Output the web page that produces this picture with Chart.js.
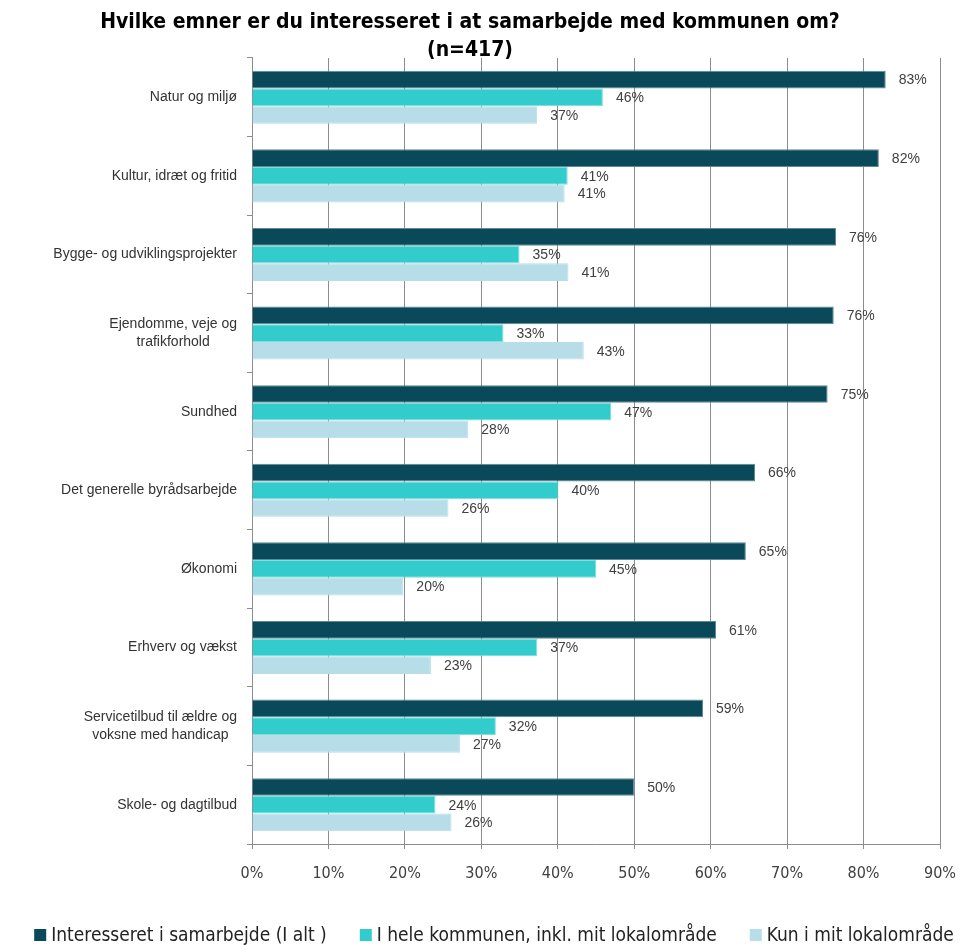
<!DOCTYPE html>
<html>
<head>
<meta charset="utf-8">
<script src="https://cdn.jsdelivr.net/npm/chart.js@4/dist/chart.umd.min.js"></script>
<style>
  html, body { margin: 0; padding: 0; background: #fff; }
  #wrap { width: 960px; height: 945px; position: relative; }
</style>
</head>
<body>
<div id="wrap"><canvas id="myChart" width="960" height="945"></canvas></div>
<script>
const categories = [
    ["Natur og miljø"],
    ["Kultur, idræt og fritid"],
    ["Bygge- og udviklingsprojekter"],
    ["Ejendomme, veje og", "trafikforhold"],
    ["Sundhed"],
    ["Det generelle byrådsarbejde"],
    ["Økonomi"],
    ["Erhverv og vækst"],
    ["Servicetilbud til ældre og", "voksne med handicap"],
    ["Skole- og dagtilbud"]
];
const seriesNames = [
    "Interesseret i samarbejde (I alt )",
    "I hele kommunen, inkl. mit lokalområde",
    "Kun i mit lokalområde"
];
const iAlt = [82.9, 82.0, 76.4, 76.1, 75.3, 65.8, 64.6, 60.7, 59.0, 50.0];
const heleKommunen = [45.9, 41.3, 35.0, 32.9, 47.0, 40.1, 45.0, 37.3, 31.9, 24.0];
const kunLokal = [37.3, 40.9, 41.4, 43.4, 28.3, 25.7, 19.8, 23.4, 27.2, 26.1];
const xTicks = [0, 10, 20, 30, 40, 50, 60, 70, 80, 90];

const gridGrey = '#8c8c8c';
const narrow = '"Liberation Sans Narrow", "DejaVu Sans Condensed", sans-serif';

// value labels at the end of every bar
const valueLabels = {
    id: 'valueLabels',
    afterDatasetsDraw(chart) {
        const ctx = chart.ctx;
        ctx.save();
        ctx.font = '14px "Liberation Sans", Arial, sans-serif';
        ctx.fillStyle = '#404040';
        ctx.textAlign = 'left';
        ctx.textBaseline = 'middle';
        chart.data.datasets.forEach((ds, i) => {
            chart.getDatasetMeta(i).data.forEach((bar, j) => {
                ctx.fillText(Math.round(ds.data[j]) + '%', bar.x + 13, bar.y + 1);
            });
        });
        ctx.restore();
    }
};

// category labels: right aligned block, lines centred inside it
const catLabels = {
    id: 'catLabels',
    afterDraw(chart) {
        const ctx = chart.ctx;
        const y = chart.scales.y;
        const right = y.right - 15;
        ctx.save();
        ctx.font = '14px "Liberation Sans", Arial, sans-serif';
        ctx.fillStyle = '#333333';
        ctx.textAlign = 'center';
        ctx.textBaseline = 'middle';
        chart.data.labels.forEach((lines, i) => {
            const w = Math.max(...lines.map(l => ctx.measureText(l).width));
            const cx = right - w / 2;
            const cy = y.getPixelForTick(i);
            const top = cy - (lines.length - 1) * 9;
            lines.forEach((l, k) => ctx.fillText(l, cx, top + k * 18));
        });
        ctx.restore();
    }
};

// one-row legend under the axis
const bottomLegend = {
    id: 'bottomLegend',
    afterDraw(chart) {
        const ctx = chart.ctx;
        const box = 12, gap = 5, between = 33, yMid = 935;
        ctx.save();
        ctx.font = '19px ' + narrow;
        ctx.textBaseline = 'middle';
        ctx.textAlign = 'left';
        const items = chart.data.datasets.map(ds => ({
            text: ds.label, color: ds.backgroundColor, w: ctx.measureText(ds.label).width
        }));
        const total = items.reduce((s, it) => s + box + gap + it.w, 0) + between * (items.length - 1);
        let x = 494 - total / 2;
        items.forEach(it => {
            ctx.fillStyle = it.color;
            ctx.fillRect(x, yMid - box / 2, box, box);
            ctx.fillStyle = '#222';
            ctx.fillText(it.text, x + box + gap, yMid + 1);
            x += box + gap + it.w + between;
        });
        ctx.restore();
    }
};

new Chart(document.getElementById('myChart'), {
    type: 'bar',
    data: {
        labels: categories,
        datasets: [{
            label: seriesNames[0],
            data: iAlt,
            backgroundColor: '#09495a',
            borderColor: '#5d8a96',
            borderWidth: 1
        }, {
            label: seriesNames[1],
            data: heleKommunen,
            backgroundColor: '#33cccc',
            borderColor: '#7fdede',
            borderWidth: 1
        }, {
            label: seriesNames[2],
            data: kunLokal,
            backgroundColor: '#b7dee8',
            borderColor: '#b7dee8',
            borderWidth: 1
        }]
    },
    options: {
        indexAxis: 'y',
        responsive: false,
        animation: false,
        layout: { padding: { left: 0, right: 20, top: 0, bottom: 51 } },
        datasets: { bar: { categoryPercentage: 0.675, barPercentage: 1 } },
        scales: {
            x: {
                min: 0,
                max: 90,
                afterBuildTicks: scale => { scale.ticks = xTicks.map(v => ({ value: v })); },
                afterFit: scale => { scale.height = 50; },
                ticks: {
                    callback: v => v + '%',
                    font: { family: narrow, size: 16, lineHeight: 2.6 },
                    color: '#404040',
                    padding: 4
                },
                grid: { color: gridGrey, tickLength: 5, tickColor: gridGrey },
                border: { color: gridGrey }
            },
            y: {
                afterFit: scale => { scale.width = 252; },
                ticks: { display: false },
                grid: { drawOnChartArea: false, drawTicks: true, tickLength: 5, color: gridGrey, offset: true },
                border: { color: gridGrey }
            }
        },
        plugins: {
            title: {
                display: true,
                text: ['Hvilke emner er du interesseret i at samarbejde med kommunen om?', '(n=417)'],
                font: { family: narrow, size: 21, weight: 'bold', lineHeight: 1.333 },
                color: '#000',
                padding: { top: 9, bottom: -7 }
            },
            legend: { display: false },
            tooltip: { enabled: false }
        }
    },
    plugins: [valueLabels, catLabels, bottomLegend]
});
</script>
</body>
</html>
